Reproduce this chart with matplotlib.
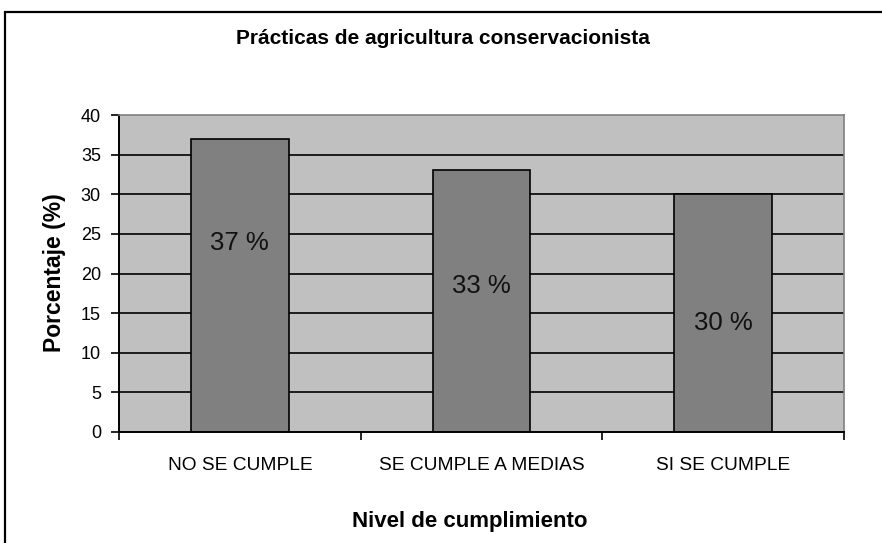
import matplotlib
matplotlib.use("Agg")
import matplotlib.pyplot as plt
from matplotlib.patches import Rectangle

categories = ["NO SE CUMPLE", "SE CUMPLE A MEDIAS", "SI SE CUMPLE"]
values = [37, 33, 30]
value_labels = ["37 %", "33 %", "30 %"]
label_y = [23.8, 18.4, 13.8]
yticks = [0, 5, 10, 15, 20, 25, 30, 35, 40]

plt.rcParams['font.family'] = ['Liberation Sans', 'DejaVu Sans']

fig = plt.figure(figsize=(8.82, 5.43), dpi=100)
fig.patch.set_facecolor('white')
# outer border
fig.add_artist(Rectangle((5/882, -0.05), 1.2, (543-12)/543 + 0.05, transform=fig.transFigure,
                         fill=False, edgecolor='black', linewidth=1.6))

ax = fig.add_axes([119/882, (543-432)/543, (844-119)/882, (432-115)/543])
ax.set_facecolor('#C0C0C0')
x = list(range(len(categories)))
ax.set_xlim(-0.5, len(categories) - 0.5)
ax.set_ylim(0, 40)
for yv in yticks[1:-1]:
    ax.axhline(yv, color='black', linewidth=1.2, zorder=1)
ax.bar(x, values, width=0.405, color='#808080', edgecolor='black', linewidth=1.2, zorder=2)
for xi, ly, lab in zip(x, label_y, value_labels):
    ax.text(xi, ly, lab, ha='center', va='center', fontsize=18.5, color='#111111', zorder=3)

ax.set_yticks(yticks)
ax.set_yticklabels([str(v) for v in yticks], fontsize=13)
ax.set_xticks([-0.5, 0.5, 1.5, 2.5])
ax.set_xticklabels([])
ax.set_xticks(x, minor=True)
ax.set_xticklabels(categories, minor=True, fontsize=13.8)
ax.tick_params(axis='x', which='minor', length=0, pad=18)
ax.tick_params(axis='x', which='major', length=6, width=1.2, direction='out')
ax.tick_params(axis='y', length=6, width=1.2, direction='out', pad=7)
for s in ['left', 'bottom']:
    ax.spines[s].set_color('black')
    ax.spines[s].set_linewidth(1.4)
for s in ['top', 'right']:
    ax.spines[s].set_color('#808080')
    ax.spines[s].set_linewidth(1.2)

fig.text(442.5 / 882, (543 - 38) / 543, "Prácticas de agricultura conservacionista",
         ha='center', va='center', fontsize=15, fontweight='bold')
fig.text(55 / 882, (543 - 272.5) / 543, "Porcentaje (%)", rotation=90, ha='center', va='center',
         fontsize=16.5, fontweight='bold')
fig.text(469.5 / 882, (543 - 522) / 543, "Nivel de cumplimiento", ha='center', va='center',
         fontsize=16, fontweight='bold')

fig.savefig("out.png", dpi=100)
